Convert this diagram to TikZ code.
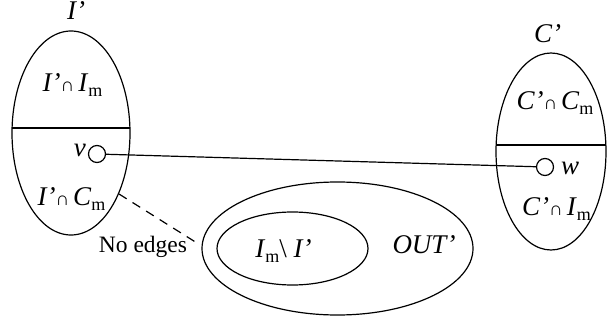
\documentclass[tikz,border=0pt]{standalone}
\usepackage{fontspec}
\setmainfont{Liberation Serif}
\usetikzlibrary{shapes.geometric}
\newcommand{\subm}{\raisebox{-5pt}{\fontsize{18}{18}\selectfont m}}
\newcommand{\capp}{{\fontsize{19}{19}\selectfont ∩}\hspace{4pt}}
\begin{document}
\begin{tikzpicture}[x=1pt,y=-1pt,
  every node/.style={font=\fontsize{27}{30}\selectfont, inner sep=0pt},
  txt/.style={anchor=base},
  set/.style={ellipse, draw, line width=1.2pt, inner sep=0pt},
  vert/.style={circle, draw, line width=1.2pt, minimum size=17pt, inner sep=0pt}]
\useasboundingbox (0,0) rectangle (607,323);
% left set I'
\node[set, minimum width=118pt, minimum height=204pt] (L) at (71,133) {};
\begin{scope}\clip (71,133) ellipse [x radius=59, y radius=102];
\draw[line width=1.2pt] (0,128) -- (140,128);\end{scope}
\node[txt] (Ilab) at (76,20) {\textit{I’}};
\node[txt] (LI) at (72.5,92) {\textit{I’}\capp\textit{I}\subm};
\node[txt] (LC) at (71.5,205) {\textit{I’}\capp\textit{C}\subm};
\node[vert] (v) at (97,154) {};
\node[anchor=base east] (vl) at (86,157) {\textit{v}};
% right set C'
\node[set, minimum width=110pt, minimum height=197pt] (R) at (551,151.5) {};
\begin{scope}\clip (551,151.5) ellipse [x radius=55, y radius=98.5];
\draw[line width=1.2pt] (490,145) -- (610,145);\end{scope}
\node[txt] (Clab) at (547.5,43) {\textit{C’}};
\node[txt] (RC) at (555,110) {\textit{C’}\capp\textit{C}\subm};
\node[txt] (RI) at (556.5,215) {\textit{C’}\capp\textit{I}\subm};
\node[vert] (w) at (545,167) {};
\node[anchor=base west] (wl) at (561,175) {\textit{w}};
% OUT'
\node[set, minimum width=271pt, minimum height=133pt] (O) at (337.5,248.5) {};
\node[set, minimum width=151pt, minimum height=73pt] (In) at (292.5,248.5) {};
\node[txt] (InL) at (283.5,257) {\textit{I}\subm\textbackslash\ \textit{I’}};
\node[txt] (OL) at (424,253) {\textit{OUT’}};
% edges
\draw[line width=1.2pt] (v) -- (w);
\coordinate (d1) at (119,194);
\coordinate (d2) at (197,243);
\draw[line width=1.2pt, dash pattern=on 9pt off 7pt] (d1) -- (d2);
\node[font=\fontsize{23.5}{27}\selectfont] (ne) at (143,247) {No edges};
\end{tikzpicture}
\end{document}
